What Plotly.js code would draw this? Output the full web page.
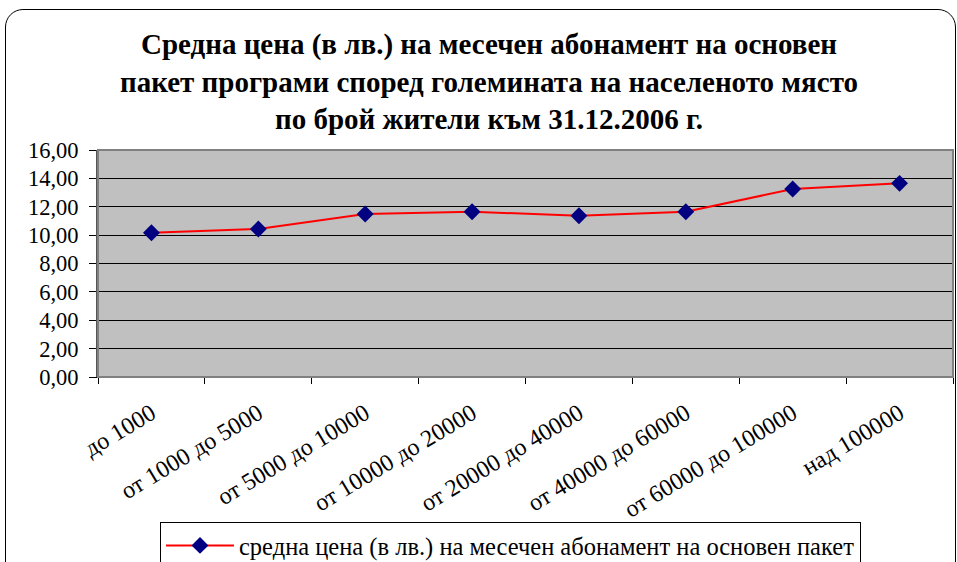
<!DOCTYPE html>
<html>
<head>
<meta charset="utf-8">
<script src="https://cdn.plot.ly/plotly-3.0.1.min.js"></script>
<style>
html,body{margin:0;padding:0;background:#fff;overflow:hidden;}
#chart{width:957px;height:562px;position:relative;}
#frame{position:absolute;left:5px;top:9px;width:949px;height:620px;border:1.5px solid #000;border-radius:18px;pointer-events:none;}
</style>
</head>
<body>
<div id="chart"></div>
<div id="frame"></div>
<script>
const categories = ["до 1000", "от 1000 до 5000", "от 5000 до 10000", "от 10000 до 20000",
  "от 20000 до 40000", "от 40000 до 60000", "от 60000 до 100000", "над 100000"];
const prices = [10.17, 10.43, 11.49, 11.65, 11.37, 11.65, 13.25, 13.65];
const seriesName = "средна цена (в лв.) на месечен абонамент на основен пакет";
const titleText = "Средна цена (в лв.) на месечен абонамент на основен<br>пакет програми според големината на населеното място<br>по брой жители към 31.12.2006 г.";

const font = "'Liberation Serif', 'Times New Roman', Times, serif";

const trace = {
  type: "scatter",
  mode: "lines+markers",
  x: categories,
  y: prices,
  name: seriesName,
  line: {color: "#ff0000", width: 2},
  marker: {symbol: "diamond", size: 13, color: "#000080"}
};

const layout = {
  width: 957, height: 562,
  margin: {l: 98, r: 4, t: 150, b: 185},
  paper_bgcolor: "#ffffff",
  plot_bgcolor: "#c0c0c0",
  separators: ", ",
  font: {family: font, color: "#000", size: 20},
  title: {
    text: titleText,
    font: {family: font, size: 29, color: "#000", weight: "bold"},
    x: 489/957, xanchor: "center",
    y: 1 - 54/562, yanchor: "top",
    automargin: false
  },
  xaxis: {
    type: "category",
    range: [-0.5, 7.5],
    automargin: false,
    tickson: "boundaries",
    ticks: "outside", ticklen: 6, tickcolor: "#000",
    showgrid: false,
    showline: true, linecolor: "#000", linewidth: 1,
    tickangle: -31,
    ticklabelstandoff: 12,
    tickfont: {family: font, size: 24, color: "#000"},
    zeroline: false
  },
  yaxis: {
    range: [0, 16],
    dtick: 2,
    automargin: false,
    tickformat: ".2f",
    ticks: "outside", ticklen: 7, tickcolor: "#000",
    ticklabelstandoff: 6,
    showgrid: true, gridcolor: "#000", gridwidth: 1,
    showline: true, linecolor: "#555", linewidth: 2,
    tickfont: {family: font, size: 22.5, color: "#000"},
    zeroline: false
  },
  shapes: [{
    type: "rect", xref: "paper", yref: "paper",
    x0: 0, x1: 1, y0: 0, y1: 1,
    line: {color: "#808080", width: 2}
  }],
  showlegend: true,
  legend: {
    orientation: "h",
    xref: "container", yref: "container",
    x: 160/957, xanchor: "left",
    y: 1 - 522/562, yanchor: "top",
    bordercolor: "#000", borderwidth: 1,
    bgcolor: "#fff",
    itemwidth: 68,
    font: {family: font, size: 24.5, color: "#000"}
  }
};

Plotly.newPlot("chart", [trace], layout, {displayModeBar: false, staticPlot: true});
</script>
</body>
</html>
